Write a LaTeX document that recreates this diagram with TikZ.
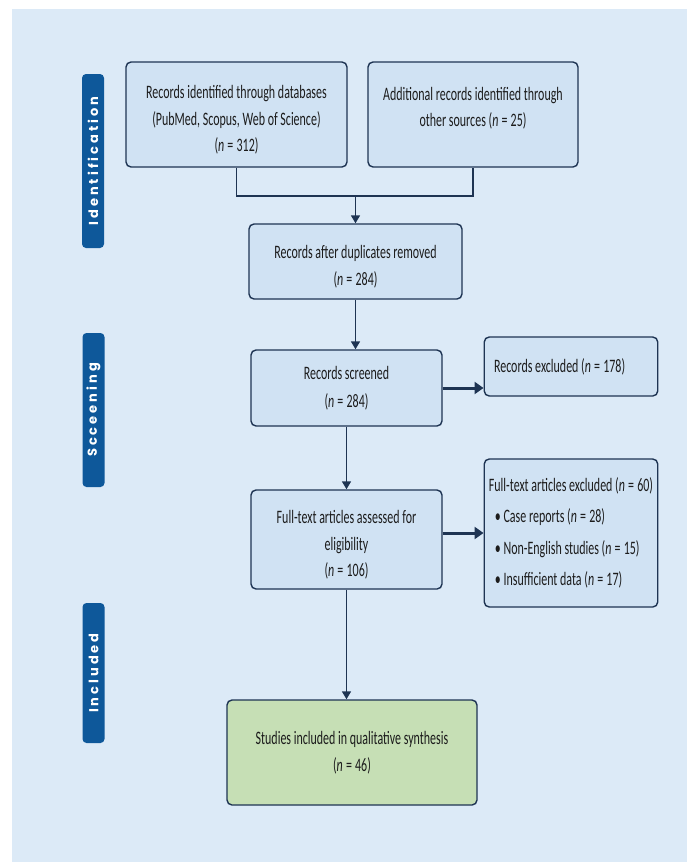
\documentclass[tikz,border=0pt]{standalone}
\usepackage{fontspec}
\setmainfont{Carlito}[FakeStretch=0.63]
\newfontfamily\barfont{Poppins}[LetterSpace=23]
\usetikzlibrary{arrows.meta}
\definecolor{bgc}{HTML}{DCEAF7}
\definecolor{boxc}{HTML}{D0E2F3}
\definecolor{greenc}{HTML}{C6DFB5}
\definecolor{navy}{HTML}{1E3453}
\definecolor{barc}{HTML}{0E589A}
\definecolor{txt}{HTML}{1C1C1C}
\newcommand{\nn}[1]{(\textit{n}\,=\,#1)}
\newcommand{\dn}{\rule{0pt}{24pt}}
\begin{document}
\begin{tikzpicture}[x=1pt,y=-1pt,
  box/.style={draw=navy, line width=1.4pt, fill=boxc, rounded corners=5pt, inner sep=0pt,
    align=center, text=txt, font=\fontsize{19}{26.5}\selectfont},
  greenbox/.style={box, fill=greenc},
  phasebar/.style={fill=barc, rounded corners=4pt, rotate=90, inner sep=0pt,
    minimum height=22pt, text=white, font=\barfont\bfseries\fontsize{13}{15}\selectfont},
  conn/.style={draw=navy, line width=1.6pt},
  arr/.style={conn, -{Triangle[width=9pt,length=8pt]}},
  harr/.style={draw=navy, line width=3pt, -{Triangle[width=12pt,length=9pt]}}
]
\useasboundingbox (0,0) rectangle (692,862);
\fill[bgc] (12,9) rectangle (687,862);

% phase bars
\node[phasebar, minimum width=174pt] (pid) at (93,161) {Identification};
\node[phasebar, minimum width=154pt] (psc) at (93.5,410) {Scceening};
\node[phasebar, minimum width=140pt] (pin) at (93.5,673) {Included};

% boxes
\node[box, minimum width=221pt, minimum height=105pt] (b1) at (236.5,114.5)
  {\dn Records identified through databases\\(PubMed, Scopus, Web of Science)\\\nn{312}};
\node[box, minimum width=210pt, minimum height=105pt] (b2) at (473,114.5)
  {\dn Additional records identified through\\other sources \nn{25}\\\mbox{}};
\node[box, minimum width=213pt, minimum height=75pt] (b3) at (355.5,261.5)
  {\dn Records after duplicates removed\\\nn{284}};
\node[box, minimum width=191pt, minimum height=76pt, font=\fontsize{19}{28}\selectfont] (b4) at (346.5,388)
  {Records screened\\\nn{284}};
\node[box, minimum width=173.5pt, minimum height=59pt] (b5) at (571,366.5)
  {\makebox[154pt][l]{Records excluded \nn{178}}};
\node[box, minimum width=191pt, minimum height=99pt] (b6) at (346.5,539.5)
  {\dn Full-text articles assessed for\\eligibility\\\nn{106}};
\node[box, minimum width=173.5pt, minimum height=148pt, align=left, font=\fontsize{19}{31.5}\selectfont] (b7) at (571,533)
  {Full-text articles excluded \nn{60}\\
   \hspace*{6pt}\textbullet\ Case reports \nn{28}\\
   \hspace*{6pt}\textbullet\ Non-English studies \nn{15}\\
   \hspace*{6pt}\textbullet\ Insufficient data \nn{17}};
\node[greenbox, minimum width=250pt, minimum height=105pt] (b8) at (352,752.5)
  {Studies included in qualitative synthesis\\\nn{46}};

% connectors
\coordinate (j1) at (b1.south |- 0,196);
\coordinate (j2) at (b2.south |- 0,196);
\coordinate (jm) at (b3.north |- 0,196);
\draw[conn] (b1.south) -- (j1) -- (j2) -- (b2.south);
\draw[arr] (jm) -- (b3.north);
\draw[arr] (b3.south) -- (b3.south |- b4.north);
\draw[harr] (b4.east) -- (b4.east -| b5.west);
\draw[arr] (b4.south) -- (b6.north);
\draw[harr] (b6.east |- b7.west) -- (b7.west);
\draw[arr] (b6.south) -- (b6.south |- b8.north);
\end{tikzpicture}
\end{document}
